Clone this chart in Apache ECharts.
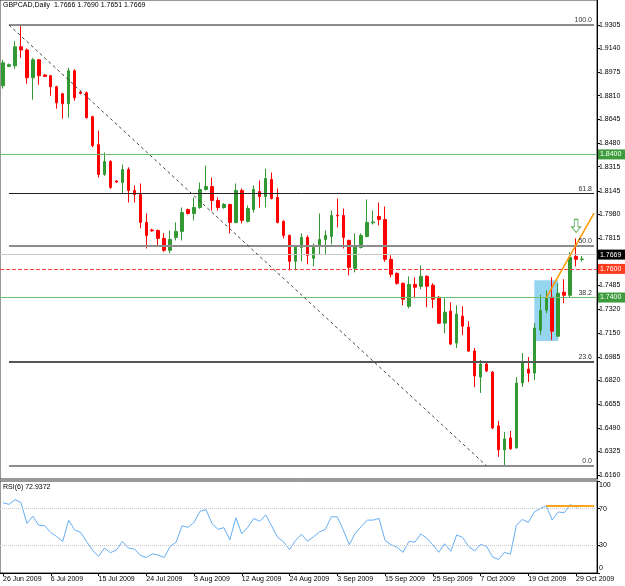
<!DOCTYPE html>
<html>
<head>
<meta charset="utf-8">
<script src="https://cdn.jsdelivr.net/npm/echarts@6/dist/echarts.min.js"></script>
<style>
html, body { margin: 0; padding: 0; background: #fff; }
#main { width: 625px; height: 586px; }
</style>
</head>
<body>
<div id="main"></div>
<script>
// date labels, one every 8 bars
var dateLabels = ['26 Jun 2009', '6 Jul 2009', '15 Jul 2009', '24 Jul 2009', '3 Aug 2009', '12 Aug 2009',
    '24 Aug 2009', '3 Sep 2009', '15 Sep 2009', '25 Sep 2009', '7 Oct 2009', '19 Oct 2009', '29 Oct 2009'];
var labelStep = 8;

var openP = [1.8880, 1.9015, 1.9019, 1.9152, 1.9130, 1.8936, 1.9061, 1.8955, 1.8950, 1.8873,
    1.8824, 1.8754, 1.8984, 1.8835, 1.8831, 1.8664, 1.8468, 1.8260, 1.8350, 1.8215,
    1.8204, 1.8294, 1.8148, 1.8120, 1.7925, 1.7872, 1.7869, 1.7813, 1.7730, 1.7820,
    1.7862, 1.8015, 1.7987, 1.8029, 1.8155, 1.8176, 1.8078, 1.8029, 1.8050, 1.7925,
    1.8148, 1.7932, 1.8015, 1.8141, 1.8106, 1.8225, 1.8099, 1.7932, 1.7834, 1.7653,
    1.7750, 1.7820, 1.7674, 1.7757, 1.7806, 1.7827, 1.7975, 1.7973, 1.7799, 1.7604,
    1.7750, 1.7827, 1.7922, 1.7966, 1.7945, 1.7667, 1.7569, 1.7499, 1.7339, 1.7492,
    1.7478, 1.7548, 1.7486, 1.7402, 1.7221, 1.7305, 1.7082, 1.7270, 1.7193, 1.7026,
    1.6845, 1.6935, 1.6879, 1.6503, 1.6336, 1.6419, 1.6350, 1.6803, 1.6900, 1.6872,
    1.7172, 1.7312, 1.7402, 1.7130, 1.7437, 1.7416, 1.7688, 1.7666];
var closeP = [1.9040, 1.9027, 1.9152, 1.9130, 1.8936, 1.9061, 1.8950, 1.8945, 1.8873, 1.8761,
    1.8754, 1.8984, 1.8796, 1.8826, 1.8657, 1.8462, 1.8260, 1.8350, 1.8169, 1.8207,
    1.8294, 1.8148, 1.8120, 1.7925, 1.7834, 1.7866, 1.7813, 1.7730, 1.7806, 1.7862,
    1.7994, 1.7987, 1.8029, 1.8155, 1.8176, 1.8078, 1.8029, 1.8050, 1.7925, 1.8148,
    1.7939, 1.8022, 1.8155, 1.8106, 1.8232, 1.8092, 1.7925, 1.7834, 1.7653, 1.7757,
    1.7820, 1.7695, 1.7750, 1.7806, 1.7834, 1.7973, 1.7970, 1.7820, 1.7611, 1.7757,
    1.7834, 1.7925, 1.7928, 1.7945, 1.7667, 1.7562, 1.7499, 1.7388, 1.7492, 1.7472,
    1.7548, 1.7479, 1.7388, 1.7221, 1.7298, 1.7075, 1.7284, 1.7200, 1.7026, 1.6852,
    1.6935, 1.6887, 1.6489, 1.6336, 1.6412, 1.6343, 1.6803, 1.6942, 1.6872, 1.7186,
    1.7310, 1.7395, 1.7165, 1.7430, 1.7416, 1.7681, 1.7667, 1.7669];
var lowP = [1.8860, 1.9010, 1.8998, 1.9075, 1.8894, 1.8782, 1.8887, 1.8940, 1.8810, 1.8720,
    1.8650, 1.8657, 1.8775, 1.8820, 1.8650, 1.8450, 1.8238, 1.8250, 1.8160, 1.8200,
    1.8127, 1.8064, 1.8064, 1.7883, 1.7743, 1.7860, 1.7764, 1.7720, 1.7709, 1.7799,
    1.7799, 1.7980, 1.7939, 1.8020, 1.8148, 1.8008, 1.8008, 1.8020, 1.7848, 1.7918,
    1.7918, 1.7925, 1.7994, 1.8029, 1.8029, 1.8085, 1.7918, 1.7813, 1.7590, 1.7590,
    1.7653, 1.7632, 1.7618, 1.7702, 1.7702, 1.7771, 1.7890, 1.7743, 1.7555, 1.7576,
    1.7743, 1.7820, 1.7910, 1.7904, 1.7650, 1.7540, 1.7490, 1.7346, 1.7325, 1.7395,
    1.7458, 1.7332, 1.7326, 1.7215, 1.7151, 1.7068, 1.7047, 1.7137, 1.7019, 1.6775,
    1.6733, 1.6880, 1.6480, 1.6287, 1.6224, 1.6336, 1.6343, 1.6775, 1.6810, 1.6824,
    1.7140, 1.7290, 1.7102, 1.7123, 1.7360, 1.7402, 1.7618, 1.7651];
var highP = [1.9060, 1.9035, 1.9193, 1.9298, 1.9140, 1.9075, 1.9068, 1.8960, 1.8955, 1.8880,
    1.8830, 1.9005, 1.8995, 1.8845, 1.8840, 1.8670, 1.8566, 1.8413, 1.8360, 1.8220,
    1.8329, 1.8310, 1.8183, 1.8197, 1.7987, 1.7880, 1.7875, 1.7850, 1.7869, 1.7925,
    1.8029, 1.8022, 1.8099, 1.8204, 1.8322, 1.8238, 1.8100, 1.8060, 1.8055, 1.8197,
    1.8162, 1.8043, 1.8183, 1.8218, 1.8301, 1.8273, 1.8162, 1.7940, 1.7840, 1.7764,
    1.7848, 1.7834, 1.7778, 1.7987, 1.7869, 1.8008, 1.8092, 1.8022, 1.7805, 1.7848,
    1.7848, 1.8085, 1.8008, 1.8064, 1.8036, 1.7695, 1.7575, 1.7505, 1.7548, 1.7541,
    1.7625, 1.7555, 1.7500, 1.7410, 1.7395, 1.7367, 1.7346, 1.7339, 1.7235, 1.7047,
    1.6963, 1.6949, 1.6886, 1.6538, 1.6461, 1.6468, 1.6845, 1.7012, 1.6984, 1.7221,
    1.7420, 1.7450, 1.7542, 1.7500, 1.7528, 1.7716, 1.7813, 1.7690];

var rsiValues = [76.4, 74.6, 79.6, 76.8, 53.9, 61.8, 51.8, 51.4, 43.9, 39.6,
    34.3, 57.5, 46.8, 44.3, 34.3, 24.6, 18.2, 27.1, 22.1, 25.0,
    34.3, 27.1, 26.1, 19.3, 16.8, 20.7, 19.6, 16.8, 28.9, 33.6,
    51.4, 49.6, 55.0, 67.1, 68.9, 53.9, 47.5, 49.3, 36.1, 60.0,
    42.5, 49.6, 59.3, 56.1, 63.2, 51.1, 38.9, 33.9, 25.4, 35.4,
    42.1, 34.6, 39.2, 44.5, 47.5, 61.1, 61.1, 46.8, 30.7, 43.2,
    50.4, 57.5, 57.5, 59.3, 35.4, 30.7, 28.2, 22.5, 34.3, 33.6,
    42.5, 37.9, 30.7, 22.5, 31.8, 23.6, 41.4, 38.6, 28.9, 23.9,
    31.1, 28.9, 17.5, 14.6, 22.5, 20.4, 52.1, 58.2, 55.0, 66.4,
    70.0, 72.9, 57.5, 66.4, 65.4, 74.3, 71.6, 72.9];

var priceTicks = [1.9305, 1.9140, 1.8975, 1.8810, 1.8645, 1.8480, 1.8315, 1.8145, 1.7980, 1.7815,
    1.7485, 1.7320, 1.7150, 1.6985, 1.6820, 1.6655, 1.6490, 1.6325, 1.6160];
var rsiTicks = [0, 30, 70, 100];
var rsiGuides = [30, 70];

// fibonacci retracement
var fibNames = ['100.0', '61.8', '50.0', '38.2', '23.6', '0.0'];
var fibValues = [1.9305, 1.8128, 1.7765, 1.7401, 1.6951, 1.6224];
var fibStart = 1, fibEnd = 99;
var fibDiagonal = [[1, 1.9305], [81, 1.6224]];

var greenLevels = [1.8400, 1.7400];
var redLevel = 1.7600;
var lastPrice = 1.7669;
var trendLine = [[91, 1.7400], [99, 1.7990]];
var boxZone = [[89, 1.7521], [93, 1.7096]];
var arrowMark = [[96, 1.7900]];
var rsiTrend = [[91, 73], [99, 73]];

var myChart = echarts.init(document.getElementById('main'));
var font = '"Liberation Sans", Arial, sans-serif';
var fs = 7;

var cats = [];
for (var i = 0; i < openP.length + 2; i++) cats.push(String(i));
var candles = openP.map(function (o, i) { return [o, closeP[i], lowP[i], highP[i]]; });
var showDate = function (idx) { return idx % labelStep === 0 && idx / labelStep < dateLabels.length; };

var fibColors = ['#8c8c8c', '#222', '#8c8c8c', '#8c8c8c', '#555', '#8c8c8c'];
var fibWidths = [2, 1, 2, 1, 2, 2];

var markLines = [];
fibValues.forEach(function (v, k) {
    markLines.push([
        { coord: [fibStart, v], lineStyle: { color: fibColors[k], width: fibWidths[k], type: 'solid' },
          label: { show: true, position: 'insideEndTop', formatter: fibNames[k], fontSize: fs, color: '#333', distance: [2, 1] } },
        { coord: [fibEnd, v] }
    ]);
});
markLines.push({ yAxis: lastPrice, lineStyle: { color: '#c8c8c8', width: 1, type: 'solid' },
    label: { show: true, position: 'end', distance: 1, formatter: lastPrice.toFixed(4), color: '#fff', backgroundColor: '#000', padding: [2, 4, 1, 2], fontSize: fs } });
greenLevels.forEach(function (v) {
    markLines.push({ yAxis: v, lineStyle: { color: '#6cc06c', width: 1, type: 'solid' },
        label: { show: true, position: 'end', distance: 1, formatter: v.toFixed(4), color: '#fff', backgroundColor: '#3c9c3c', padding: [2, 4, 1, 2], fontSize: fs } });
});
markLines.push([
    { coord: fibDiagonal[0], lineStyle: { color: '#444', width: 1, type: [3, 3] }, label: { show: false } },
    { coord: fibDiagonal[1] }
]);
markLines.push([
    { coord: trendLine[0], lineStyle: { color: '#ff9900', width: 1.5, type: 'solid' }, label: { show: false } },
    { coord: trendLine[1] }
]);

myChart.setOption({
    animation: false,
    backgroundColor: '#ffffff',
    textStyle: { fontFamily: font },
    title: [
        { text: 'GBPCAD,Daily  1.7666 1.7690 1.7651 1.7669', left: 3, top: 2, padding: 0,
          textStyle: { fontSize: fs, fontWeight: 'normal', color: '#000', fontFamily: font } },
        { text: 'RSI(6) 72.9372', left: 3, top: 484, padding: 0,
          textStyle: { fontSize: fs, fontWeight: 'normal', color: '#000', fontFamily: font } }
    ],
    grid: [
        // top pushed off the canvas so only left and bottom frame lines show
        { left: 0, right: 28, top: -1, bottom: 107, show: true, borderColor: '#333', borderWidth: 1 },
        { left: 0, right: 28, top: 481, bottom: 13, show: true, borderColor: '#333', borderWidth: 1 }
    ],
    xAxis: [
        { type: 'category', gridIndex: 0, data: cats, boundaryGap: true,
          axisLine: { show: false }, axisTick: { show: false }, axisLabel: { show: false }, splitLine: { show: false } },
        { type: 'category', gridIndex: 1, data: cats, boundaryGap: true,
          axisLine: { show: true, lineStyle: { color: '#000' } },
          axisTick: { show: true, alignWithLabel: true, interval: showDate, length: 3, lineStyle: { color: '#000' } },
          axisLabel: { interval: showDate, align: 'left', margin: 3, fontSize: fs, color: '#000',
              formatter: function (v, idx) { return dateLabels[idx / labelStep] || ''; } },
          splitLine: { show: false } }
    ],
    yAxis: [
        { type: 'value', gridIndex: 0, position: 'right', min: 1.6132, max: 1.9479,
          splitLine: { show: false },
          axisLine: { show: true, lineStyle: { color: '#000' } },
          axisTick: { show: true, customValues: priceTicks, length: 3, lineStyle: { color: '#000' } },
          axisLabel: { customValues: priceTicks, margin: 2, fontSize: fs, color: '#000',
              formatter: function (v) { return v.toFixed(4); } } },
        { type: 'value', gridIndex: 1, position: 'right', min: 0, max: 100,
          splitLine: { show: false },
          axisLine: { show: true, lineStyle: { color: '#000' } },
          axisTick: { show: true, customValues: rsiTicks, length: 3, lineStyle: { color: '#000' } },
          axisLabel: { customValues: rsiTicks, margin: 2, fontSize: fs, color: '#000',
              formatter: function (v) { return v === 100 ? '{t|100}' : (v === 0 ? '{b|0}' : String(v)); },
              rich: { t: { fontSize: fs, padding: [8, 0, 0, 0] }, b: { fontSize: fs, padding: [0, 0, 9, 0] } } } }
    ],
    series: [
        {
            name: 'GBPCAD', type: 'candlestick', xAxisIndex: 0, yAxisIndex: 0,
            data: candles, barWidth: 3,
            itemStyle: { color: '#339933', color0: '#ff0000', borderColor: '#339933', borderColor0: '#ff0000', borderWidth: 1 },
            markLine: { silent: true, symbol: ['none', 'none'], animation: false, data: markLines },
            markArea: { silent: true, itemStyle: { color: 'rgba(92,190,230,0.65)' },
                data: [[{ coord: boxZone[0] }, { coord: boxZone[1] }]] }
        },
        {
            name: 'arrow', type: 'scatter', xAxisIndex: 0, yAxisIndex: 0,
            data: arrowMark, symbol: 'path://M3,0L7,0L7,8L10,8L5,14L0,8L3,8Z', symbolSize: [9, 13],
            itemStyle: { color: 'rgba(255,255,255,0)', borderColor: '#3c9c3c', borderWidth: 1 }, silent: true,
            // red alert level lives here so it keeps its own colour
            markLine: { silent: true, symbol: ['none', 'none'], animation: false, data: [
                { yAxis: redLevel, lineStyle: { color: '#ff4040', width: 1, type: 'dashed' },
                  label: { show: true, position: 'end', distance: 1, formatter: redLevel.toFixed(4), color: '#fff',
                      backgroundColor: '#ff3c1e', padding: [2, 4, 1, 2], fontSize: fs } }
            ] }
        },
        {
            name: 'RSI(6)', type: 'line', xAxisIndex: 1, yAxisIndex: 1,
            data: rsiValues, symbol: 'none', lineStyle: { color: '#66aef5', width: 1 },
            markLine: { silent: true, symbol: ['none', 'none'], animation: false, data: [
                { yAxis: rsiGuides[0], lineStyle: { color: '#c8c8c8', type: 'dotted', width: 1 }, label: { show: false } },
                { yAxis: rsiGuides[1], lineStyle: { color: '#c8c8c8', type: 'dotted', width: 1 }, label: { show: false } },
                [{ coord: rsiTrend[0], lineStyle: { color: '#ffa31a', width: 2, type: 'solid' }, label: { show: false } },
                 { coord: rsiTrend[1] }]
            ] }
        }
    ]
});
</script>
</body>
</html>
